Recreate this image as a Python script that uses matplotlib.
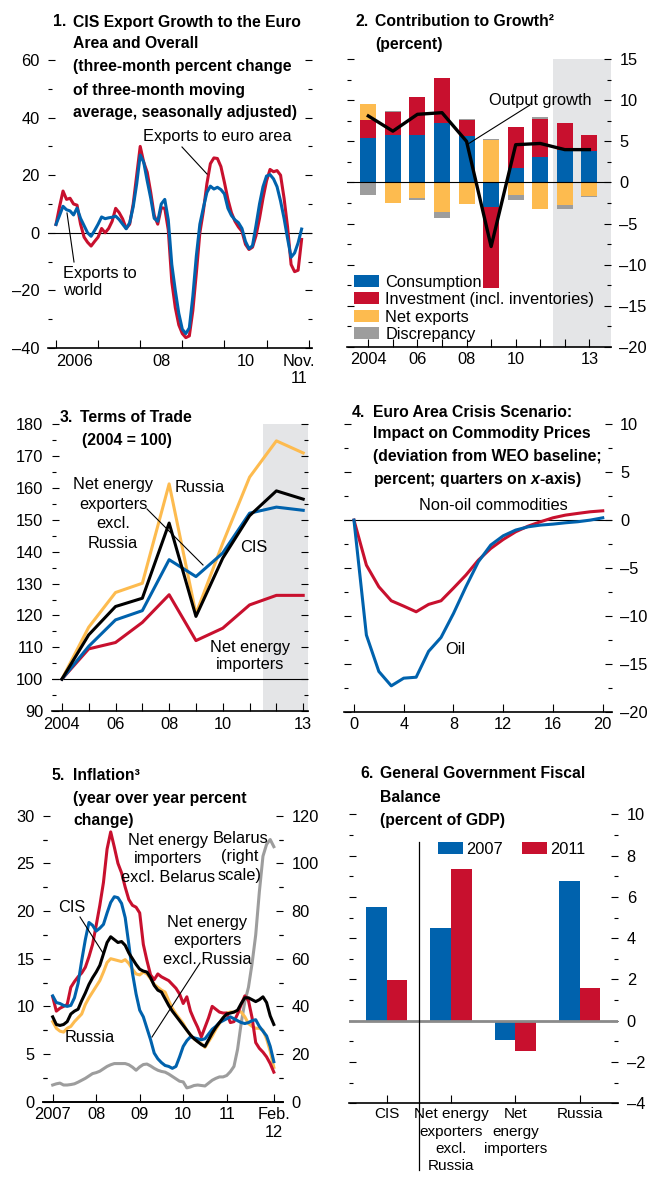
import matplotlib
matplotlib.use("Agg")
import matplotlib.pyplot as plt
import numpy as np
from matplotlib.lines import Line2D
from matplotlib.ticker import MultipleLocator, FixedLocator, NullFormatter

plt.rcParams['font.family'] = ['Liberation Sans', 'DejaVu Sans']
plt.rcParams['mathtext.fontset'] = 'custom'
plt.rcParams['mathtext.it'] = 'Liberation Sans:italic:bold'
plt.rcParams['mathtext.rm'] = 'Liberation Sans:bold'

BLUE = '#0062AD'
RED = '#C8102E'
YELLOW = '#FDBB4F'
GRAY = '#9D9D9D'
SHADE = '#E4E5E7'
TS = 11.3   # title size
FS = 11.8   # label size

# ---- panel 1: CIS export growth, monthly from Jan 2006 to Nov 2011
exports_euro = [2.9, 9, 14.5, 11.6, 12, 10, 9.6, 3, -1.5, -3.3, -4.6, -3, -1.5, 1.5, 0, 1.5,
                4, 8.5, 7, 4.8, 1.5, 3, 10, 20, 30, 24.5, 21, 14, 6, 3, 8.7, 8.5, 1, -17,
                -26, -32, -35, -36.4, -35.8, -27, -14, 0, 7.5, 17, 24, 26, 25.8, 23, 17.5,
                11.6, 7, 4, 2, 0.5, -4, -5.8, -5, -1, 5, 12, 18, 22, 21.2, 21.6, 20, 12, 2,
                -11, -13.5, -13, -2.3]
exports_world = [2.9, 6, 9.2, 8, 7.6, 6.2, 8.6, 5, 2.5, 0, -1.2, 0.8, 3, 5.5, 4.9, 5.2, 5.4,
                 5.8, 4.6, 3, 1.4, 3.5, 9, 17, 27, 24.5, 18, 12, 5, 4, 10, 11.6, 4.5, -11,
                 -20, -28, -33.5, -35, -33, -22, -8, 3, 8.7, 14, 16.2, 15.2, 15.8, 15, 13.5,
                 8.5, 6, 4.5, 3.5, 1.5, -3, -5.5, -4.5, 2.5, 10, 16, 19.7, 20.2, 18.7, 16,
                 11, 5, -2, -8.5, -7, -3.5, 1.3]

# ---- panel 2: contribution to growth
years2 = [2004, 2005, 2006, 2007, 2008, 2009, 2010, 2011, 2012, 2013]
consumption = [5.4, 5.8, 5.8, 7.2, 5.6, -3.0, 1.8, 3.1, 4.0, 3.8]
investment = [2.2, 2.8, 4.6, 5.55, 1.95, -9.8, 5.0, 4.6, 3.2, 1.95]
net_exports = [1.9, -2.5, -1.9, -3.6, -2.6, 5.15, -1.55, -3.25, -2.75, -1.6]
discrepancy = [-1.5, 0.15, -0.25, -0.75, 0.15, 0.15, -0.6, 0.3, -0.5, -0.15]
output_growth = [8.1, 6.25, 8.3, 8.5, 5.0, -7.8, 4.6, 4.75, 4.0, 4.0]
labels2 = ['2004', '', '06', '', '08', '', '10', '', '', '13']

# ---- panel 3: terms of trade
years3 = [2004, 2005, 2006, 2007, 2008, 2009, 2010, 2011, 2012, 2013]
tot_russia = [100, 116.3, 127.2, 130.1, 161.3, 120.5, 142.7, 163.4, 174.8, 171.0]
tot_exporters = [100, 110.3, 118.6, 121.5, 137.5, 132.2, 139.6, 152.1, 154.0, 153.0]
tot_importers = [100, 109.5, 111.5, 117.8, 126.5, 112.1, 116.0, 123.3, 126.3, 126.3]
tot_cis = [100, 113.9, 122.8, 125.4, 149.0, 119.7, 138.0, 151.3, 159.1, 156.5]

# ---- panel 4: euro area crisis scenario, quarters 0..20
quarters = list(range(21))
non_oil = [0, -4.7, -6.96, -8.42, -8.98, -9.57, -8.8, -8.42, -7.1, -5.74, -4.18, -2.96,
           -2.02, -1.22, -0.63, -0.17, 0.24, 0.52, 0.7, 0.87, 0.97]
oil = [0, -12.0, -15.8, -17.3, -16.5, -16.4, -13.7, -12.25, -9.75, -6.96, -4.35, -2.6,
       -1.64, -1.04, -0.7, -0.52, -0.42, -0.28, -0.17, 0.0, 0.24]

# ---- panel 5: inflation, monthly Jan 2007 to Feb 2012
infl_importers = [11.0, 9.5, 9.8, 10, 10.2, 12, 12.6, 13.1, 13.5, 14.1, 15.2, 16.5, 18.5,
                  20.6, 23, 26.5, 28.3, 26.7, 25, 24, 22.5, 21.2, 20.6, 20.4, 19.8, 16.5,
                  14.8, 13.3, 12.8, 13.4, 13.1, 12.9, 12.7, 12.3, 11.9, 11.3, 10.3, 11, 9.5,
                  8.6, 7.8, 6.8, 7.8, 8.8, 10, 9.7, 9.4, 9.3, 9.3, 8.3, 8.4, 9.2, 10.2, 11.1,
                  10.6, 8.8, 6.2, 5.6, 5.2, 4.7, 4, 3.1]
infl_exporters = [11.1, 10.4, 10.3, 10.1, 10, 10.1, 10.9, 12.4, 14.8, 17, 18.8, 18.5, 17.9,
                  18.2, 18.6, 19.8, 20.9, 21.5, 21.4, 20.8, 19.3, 16.5, 13.5, 11.3, 9.6, 8.9,
                  7.7, 6.5, 5.1, 4.5, 4.1, 3.8, 3.7, 3.5, 3.7, 4.7, 5.8, 6.4, 6.8, 6.7, 6.6,
                  6.5, 6.6, 7.1, 7.6, 7.9, 8.3, 8.5, 8.7, 8.9, 8.7, 8.5, 8.3, 8.2, 8.3, 8.5,
                  8.6, 7.9, 7.4, 6.9, 5.8, 4.2]
infl_cis = [8.9, 8.1, 8, 8.1, 8.4, 9.2, 9.5, 9.7, 10.6, 11.4, 12.3, 13, 13.6, 14.3, 15.5,
            16.7, 17.3, 17, 16.7, 16.8, 16.4, 15.6, 15, 14.4, 13.9, 13.7, 13.6, 13, 12.2,
            11.7, 11.5, 10.8, 10.1, 9.5, 9, 8.5, 8, 7.5, 7, 6.6, 6.3, 6, 5.8, 6.5, 7.2, 7.8,
            8.3, 8.8, 9.2, 9.3, 9.4, 9.6, 10.3, 10.9, 10.9, 10.7, 10.5, 10.7, 11, 10.4, 9,
            8.1]
infl_russia = [8.4, 7.7, 7.4, 7.3, 7.7, 7.9, 8.4, 8.8, 9.2, 10.2, 10.9, 11.5, 12.1, 12.7,
               13.6, 14.6, 15, 14.9, 14.8, 14.7, 14.9, 14.5, 13.9, 13.4, 13.3, 13.6, 13.4,
               12.9, 12.3, 12, 11.7, 11.5, 10.6, 9.8, 9.2, 8.7, 8.2, 7.5, 7, 6.6, 6.3, 6.1,
               5.7, 6.3, 6.9, 7.6, 8.2, 8.8, 9.3, 9.4, 9.4, 9.5, 9.4, 8.9, 8.2, 7.9, 7.7,
               7.7, 7.5, 6.6, 5.3, 3.6]
infl_belarus = [7, 7.5, 7.8, 7, 7, 7.2, 7.5, 8.2, 9, 9.8, 10.8, 11.8, 12.2, 12.8, 13.8,
                14.8, 15.5, 16, 16, 16, 16, 15.5, 14.5, 13.2, 14.6, 15.6, 15.8, 15, 14, 13.2,
                12.7, 12.4, 11.6, 10.6, 9.6, 8.6, 8.3, 5.8, 6.2, 6.8, 7, 6.8, 6.6, 7.8, 9,
                9.8, 10.4, 10.4, 11, 12.6, 14.8, 22, 33, 42, 48, 58, 70, 88, 103, 108, 110,
                107]

# ---- panel 6: fiscal balance
groups6 = ['CIS', 'Net energy\nexporters\nexcl.\nRussia', 'Net\nenergy\nimporters', 'Russia']
balance_2007 = [5.5, 4.47, -0.94, 6.77]
balance_2011 = [1.97, 7.35, -1.45, 1.58]

W, H = 652, 1177
fig = plt.figure(figsize=(W / 100, H / 100), dpi=100)


def box(x0, y0, x1, y1):
    # pixel box (top-left origin) -> figure fraction rect
    return [x0 / W, 1 - y1 / H, (x1 - x0) / W, (y1 - y0) / H]


def fx(x, y):
    return x / W, 1 - y / H


def txt(x, y, s, ha='left', size=FS, bold=False, **kw):
    fig.text(*fx(x, y), s, ha=ha, va='center', fontsize=size,
             fontweight='bold' if bold else 'normal', **kw)


def leader(x0, y0, x1, y1):
    fig.add_artist(Line2D([x0 / W, x1 / W], [1 - y0 / H, 1 - y1 / H],
                          transform=fig.transFigure, color='black', lw=0.8))


def title(num, x_num, x_txt, lines, ys):
    txt(x_num, ys[0], num, bold=True, size=TS)
    for s, y in zip(lines, ys):
        txt(x_txt, y, s, bold=True, size=TS)


def frame(ax):
    for s in ['left', 'right', 'top']:
        ax.spines[s].set_visible(False)
    ax.spines['bottom'].set_linewidth(1.2)
    ax.tick_params(which='both', direction='in', labelsize=FS, left=True, right=True,
                   width=0.8)
    ax.tick_params(which='major', length=5)
    ax.tick_params(which='minor', length=3)
    ax.patch.set_alpha(0)


def dash(v, p):
    return f'{v:.0f}'.replace('-', '\u2013')


# ================= panel 1
ax1 = fig.add_axes(box(48, 60, 312, 348))
frame(ax1)
m1 = 2006 + np.arange(len(exports_euro)) / 12
ax1.axhline(0, color='black', lw=0.8)
ax1.plot(m1, exports_euro, color=RED, lw=2.2)
ax1.plot(m1, exports_world, color=BLUE, lw=2.2)
ax1.set_ylim(-40, 60)
ax1.set_xlim(2005.81, 2012.08)
ax1.yaxis.set_major_locator(MultipleLocator(20))
ax1.yaxis.set_minor_locator(MultipleLocator(10))
ax1.yaxis.set_major_formatter(dash)
ax1.tick_params(axis='y', labelleft=True, labelright=False, pad=6)
ax1.xaxis.set_major_locator(FixedLocator(range(2006, 2013)))
ax1.xaxis.set_major_formatter(NullFormatter())
ax1.xaxis.set_minor_locator(FixedLocator([2006.45, 2008.5, 2010.5, 2011.78]))
ax1.xaxis.set_minor_formatter(lambda v, p: ['2006', '08', '10', 'Nov.\n11'][p])
ax1.tick_params(axis='x', which='minor', length=0, pad=4)
ax1.tick_params(axis='x', which='major', length=6)
title('1.', 53, 73, ['CIS Export Growth to the Euro', 'Area and Overall',
                     '(three-month percent change', 'of three-month moving',
                     'average, seasonally adjusted)'], [22, 44, 67, 90, 113])
txt(217, 137, 'Exports to euro area', ha='center')
leader(182, 147, 207, 174)
fig.text(*fx(63, 282), 'Exports to\nworld', ha='left', va='center', fontsize=FS,
         linespacing=1.22)
leader(74, 262, 67, 213)

# ================= panel 2
ax2 = fig.add_axes(box(346.7, 59.3, 611, 346.7))
frame(ax2)
ax2.axvspan(2011.5, 2014, color=SHADE, lw=0, zorder=0)
pos = np.zeros(len(years2))
neg = np.zeros(len(years2))
for vals, col, lab in [(consumption, BLUE, 'Consumption'),
                       (investment, RED, 'Investment (incl. inventories)'),
                       (net_exports, YELLOW, 'Net exports'),
                       (discrepancy, GRAY, 'Discrepancy')]:
    v = np.array(vals)
    base = np.where(v >= 0, pos, neg)
    ax2.bar(years2, v, bottom=base, width=0.65, color=col, label=lab, zorder=2)
    pos = pos + np.clip(v, 0, None)
    neg = neg + np.clip(v, None, 0)
ax2.axhline(0, color='black', lw=0.8, zorder=3)
ax2.plot(years2, output_growth, color='black', lw=2.4, zorder=4)
ax2.set_ylim(-20, 15)
ax2.set_xlim(2003.12, 2013.88)
ax2.yaxis.set_major_locator(MultipleLocator(5))
ax2.yaxis.set_minor_locator(MultipleLocator(2.5))
ax2.yaxis.set_major_formatter(dash)
ax2.tick_params(axis='y', labelleft=False, labelright=True, pad=6)
ax2.set_xticks(years2)
ax2.set_xticklabels(labels2)
ax2.tick_params(axis='x', length=6, pad=4)
ax2.legend(loc='lower left', bbox_to_anchor=(354 / W, 1 - 342 / H), bbox_transform=fig.transFigure,
           frameon=False, fontsize=FS, handlelength=1.5, handleheight=0.75,
           handletextpad=0.4, labelspacing=0.15, borderpad=0, borderaxespad=0)
txt(355, 22, '2.', bold=True, size=TS)
txt(375, 22, 'Contribution to Growth\u00b2', bold=True, size=TS)
txt(375, 45, '(percent)', bold=True, size=TS)
txt(540, 100, 'Output growth', ha='center')
leader(530, 105, 468, 144)

# ================= panel 3
ax3 = fig.add_axes(box(51.7, 424.3, 308.3, 711))
frame(ax3)
ax3.axvspan(2011.5, 2014, color=SHADE, lw=0, zorder=0)
ax3.axhline(100, color='black', lw=0.8)
ax3.plot(years3, tot_russia, color=YELLOW, lw=2.2)
ax3.plot(years3, tot_importers, color=RED, lw=2.2)
ax3.plot(years3, tot_exporters, color=BLUE, lw=2.2)
ax3.plot(years3, tot_cis, color='black', lw=2.2)
ax3.set_ylim(90, 180)
ax3.set_xlim(2003.62, 2013.19)
ax3.yaxis.set_major_locator(MultipleLocator(10))
ax3.yaxis.set_minor_locator(MultipleLocator(5))
ax3.tick_params(axis='y', labelleft=True, labelright=False, pad=6)
ax3.set_xticks(years3)
ax3.set_xticklabels(labels2)
ax3.tick_params(axis='x', length=6, pad=4)
txt(60, 417, '3.', bold=True, size=TS)
txt(80, 417, 'Terms of Trade', bold=True, size=TS)
txt(82, 440, '(2004 = 100)', bold=True, size=TS)
fig.text(*fx(113, 514), 'Net energy\nexporters\nexcl.\nRussia', ha='center', va='center',
         fontsize=FS, linespacing=1.4)
leader(147, 509, 203, 565)
txt(200, 487, 'Russia', ha='center')
txt(254, 547, 'CIS', ha='center')
fig.text(*fx(250, 656), 'Net energy\nimporters', ha='center', va='center', fontsize=FS,
         linespacing=1.12)

# ================= panel 4
ax4 = fig.add_axes(box(344, 424.3, 611.7, 711.7))
frame(ax4)
ax4.axhline(0, color='black', lw=0.8)
ax4.plot(quarters, non_oil, color=RED, lw=2.2)
ax4.plot(quarters, oil, color=BLUE, lw=2.2)
ax4.set_ylim(-20, 10)
ax4.set_xlim(-0.8, 20.72)
ax4.yaxis.set_major_locator(MultipleLocator(5))
ax4.yaxis.set_minor_locator(MultipleLocator(2.5))
ax4.yaxis.set_major_formatter(dash)
ax4.tick_params(axis='y', labelleft=False, labelright=True, pad=6)
ax4.set_xticks(range(0, 21, 4))
ax4.tick_params(axis='x', length=6, pad=4)
txt(352, 412, '4.', bold=True, size=TS)
for s, y in zip(['Euro Area Crisis Scenario:', 'Impact on Commodity Prices',
                 '(deviation from WEO baseline;', r'percent; quarters on $\it{x}$-axis)'],
                [412, 433, 457, 480]):
    txt(373, y, s, bold=True, size=TS)
txt(493, 506, 'Non-oil commodities', ha='center')
txt(455, 650, 'Oil', ha='center')

# ================= panel 5
ax5 = fig.add_axes(box(43, 815.7, 283, 1101.7))
ax5r = ax5.twinx()
frame(ax5)
frame(ax5r)
m5 = 2007 + np.arange(len(infl_cis)) / 12
ax5r.plot(m5, infl_belarus, color=GRAY, lw=2.2)
ax5.plot(m5, infl_russia, color=YELLOW, lw=2.2)
ax5.plot(m5, infl_importers, color=RED, lw=2.2)
ax5.plot(m5, infl_exporters, color=BLUE, lw=2.2)
ax5.plot(m5, infl_cis, color='black', lw=2.2)
ax5.set_zorder(ax5r.get_zorder() + 1)
ax5.set_ylim(0, 30)
ax5r.set_ylim(0, 120)
for a in (ax5, ax5r):
    a.set_xlim(2006.777, 2012.294)
ax5.yaxis.set_major_locator(MultipleLocator(5))
ax5.yaxis.set_minor_locator(MultipleLocator(2.5))
ax5.tick_params(axis='y', labelleft=True, labelright=False, right=False, pad=6)
ax5r.yaxis.set_major_locator(MultipleLocator(20))
ax5r.yaxis.set_minor_locator(MultipleLocator(10))
ax5r.tick_params(axis='y', left=False, labelleft=False, labelright=True, pad=6)
ax5r.tick_params(axis='x', bottom=False, labelbottom=False)
ax5.xaxis.set_major_locator(FixedLocator([2007, 2008, 2009, 2010, 2011, 2012 + 1 / 12]))
ax5.set_xticklabels(['2007', '08', '09', '10', '11', 'Feb.\n12'])
ax5.tick_params(axis='x', length=6, pad=4)
txt(52, 775, '5.', bold=True, size=TS)
txt(73, 775, 'Inflation\u00b3', bold=True, size=TS)
txt(73, 798, '(year over year percent', bold=True, size=TS)
txt(73, 820, 'change)', bold=True, size=TS)
fig.text(*fx(168, 859), 'Net energy\nimporters\nexcl. Belarus', ha='center', va='center',
         fontsize=FS, linespacing=1.3)
fig.text(*fx(240, 857), 'Belarus\n(right\nscale)', ha='center', va='center',
         fontsize=FS, linespacing=1.3)
txt(72, 908, 'CIS', ha='center')
leader(80, 917, 103, 953)
fig.text(*fx(207, 941), 'Net energy\nexporters\nexcl. Russia', ha='center', va='center',
         fontsize=FS, linespacing=1.25)
leader(200, 963, 152, 1037)
txt(90, 1038, 'Russia', ha='center')

# ================= panel 6
ax6 = fig.add_axes(box(349.3, 814.3, 618.3, 1103.3))
frame(ax6)
x6 = np.arange(len(groups6))
ax6.bar(x6 - 0.16, balance_2007, width=0.32, color=BLUE, label='2007')
ax6.bar(x6 + 0.16, balance_2011, width=0.32, color=RED, label='2011')
ax6.axhline(0, color='#8A8A8A', lw=2)
ax6.axvline(0.5, ymin=-0.231, ymax=0.905, color='black', lw=0.9, clip_on=False)
ax6.set_ylim(-4, 10)
ax6.set_xlim(-0.58, 3.6)
ax6.yaxis.set_major_locator(MultipleLocator(2))
ax6.yaxis.set_minor_locator(MultipleLocator(1))
ax6.yaxis.set_major_formatter(dash)
ax6.tick_params(axis='y', labelleft=False, labelright=True, pad=6)
ax6.set_xticks(x6)
ax6.set_xticklabels(groups6, linespacing=1.3, va='top', fontsize=11)
ax6.tick_params(axis='x', length=6, pad=3)
ax6.legend(loc='center left', bbox_to_anchor=(438 / W, 1 - 849 / H), bbox_transform=fig.transFigure,
           ncol=2, frameon=False, fontsize=FS, handlelength=1.5, handleheight=0.75,
           handletextpad=0.2, columnspacing=1.2, borderpad=0, borderaxespad=0)
txt(360, 773, '6.', bold=True, size=TS)
txt(380, 773, 'General Government Fiscal', bold=True, size=TS)
txt(380, 797, 'Balance', bold=True, size=TS)
txt(380, 820, '(percent of GDP)', bold=True, size=TS)

fig.savefig('out.png', dpi=100)
